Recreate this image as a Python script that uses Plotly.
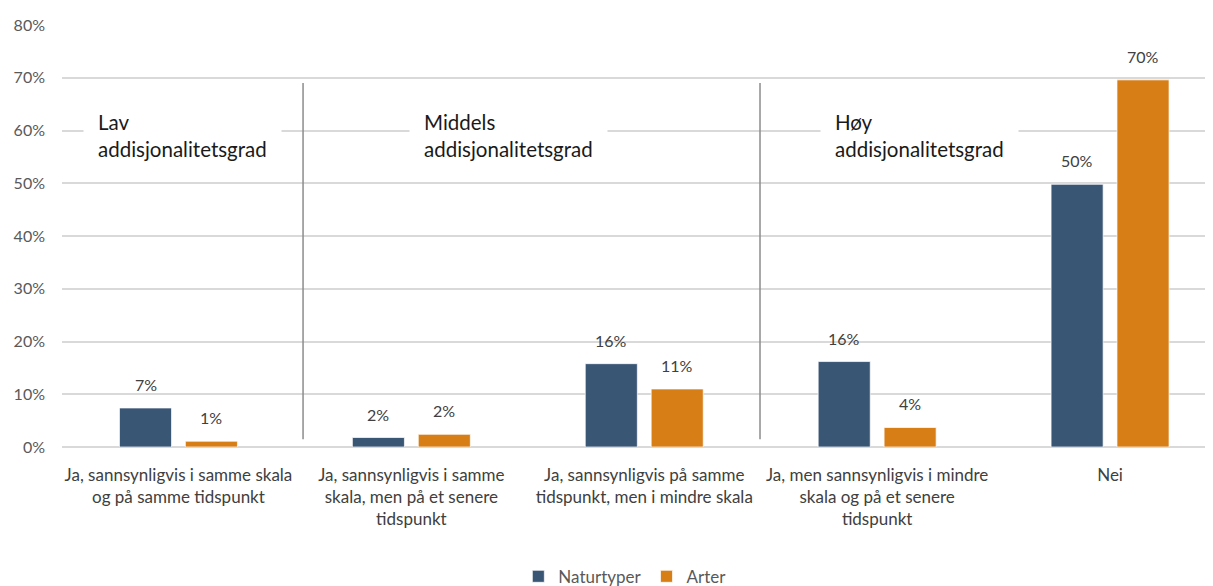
import plotly.graph_objects as go

categories = [
    "Ja, sannsynligvis i samme skala<br>og på samme tidspunkt",
    "Ja, sannsynligvis i samme<br>skala, men på et senere<br>tidspunkt",
    "Ja, sannsynligvis på samme<br>tidspunkt, men i mindre skala",
    "Ja, men sannsynligvis i mindre<br>skala og på et senere<br>tidspunkt",
    "Nei",
]
naturtyper = [0.074, 0.018, 0.158, 0.162, 0.498]
arter = [0.011, 0.024, 0.110, 0.037, 0.696]
naturtyper_labels = ["7%", "2%", "16%", "16%", "50%"]
arter_labels = ["1%", "2%", "11%", "4%", "70%"]

group_labels = ["Lav<br>addisjonalitetsgrad",
                "Middels<br>addisjonalitetsgrad",
                "Høy<br>addisjonalitetsgrad"]
group_label_x = [-0.408, 0.991, 2.755]
group_label_y = 0.59
separator_x = [0.535, 2.497]
separator_y = [0.0146, 0.69]

yticks = [0, 0.1, 0.2, 0.3, 0.4, 0.5, 0.6, 0.7, 0.8]

C_NAT = "#3A5675"
C_ART = "#D87E17"
FONT = "Lato"

BARGAP = 0.434
BARGROUPGAP = 0.21
slot = (1 - BARGAP) / 2
offs = [-slot / 2, slot / 2]

x = list(range(len(categories)))

fig = go.Figure()
fig.add_trace(go.Bar(x=x, y=naturtyper, name="Naturtyper", marker_color=C_NAT,
                     marker_line=dict(color="rgba(255,255,255,0.7)", width=1)))
fig.add_trace(go.Bar(x=x, y=arter, name="Arter", marker_color=C_ART,
                     marker_line=dict(color="rgba(255,255,255,0.7)", width=1)))

annotations = []
for vals, labs, off in [(naturtyper, naturtyper_labels, offs[0]), (arter, arter_labels, offs[1])]:
    for i, (v, t) in enumerate(zip(vals, labs)):
        annotations.append(dict(x=i + off, y=v, xref="x", yref="y", text=t, showarrow=False,
                                yanchor="bottom", yshift=12,
                                font=dict(family=FONT, size=16, color="#404040")))

for t, gx in zip(group_labels, group_label_x):
    annotations.append(dict(x=gx, y=group_label_y, xref="x", yref="y", text=t, showarrow=False,
                            xanchor="left", yanchor="middle", align="left",
                            bgcolor="white", borderpad=14,
                            font=dict(family=FONT, size=20.5, color="#1a1a1a")))

shapes = []
for sx in separator_x:
    shapes.append(dict(type="line", xref="x", yref="y", x0=sx, x1=sx,
                       y0=separator_y[0], y1=separator_y[1],
                       line=dict(color="#8c8c8c", width=1.5), layer="above"))

# page body has an 8px margin: figure sized to fit the remaining viewport
fig.update_layout(
    width=1205, height=578,
    margin=dict(l=54, r=0, t=17, b=139),
    paper_bgcolor="white", plot_bgcolor="white",
    barmode="group", bargap=BARGAP, bargroupgap=BARGROUPGAP,
    font=dict(family=FONT, size=16, color="#595959"),
    annotations=annotations,
    shapes=shapes,
    legend=dict(orientation="h", x=0.489, xanchor="center",
                yref="container", y=0.016, yanchor="middle",
                font=dict(family=FONT, size=17, color="#595959"),
                itemwidth=30, traceorder="normal"),
    xaxis=dict(tickmode="array", tickvals=x, ticktext=categories,
               range=[-0.5, 4.442], showgrid=False, zeroline=False,
               tickfont=dict(family=FONT, size=17, color="#404040"),
               ticklabelstandoff=16, automargin=False, fixedrange=True),
    yaxis=dict(range=[0, 0.8], tickvals=yticks, tickformat=".0%",
               gridcolor="#D9D9D9", gridwidth=1.5, zeroline=True,
               zerolinecolor="#D9D9D9", zerolinewidth=1.5,
               tickfont=dict(family=FONT, size=16, color="#595959"),
               ticklabelstandoff=16, automargin=False),
)

fig.write_html("out.html")
